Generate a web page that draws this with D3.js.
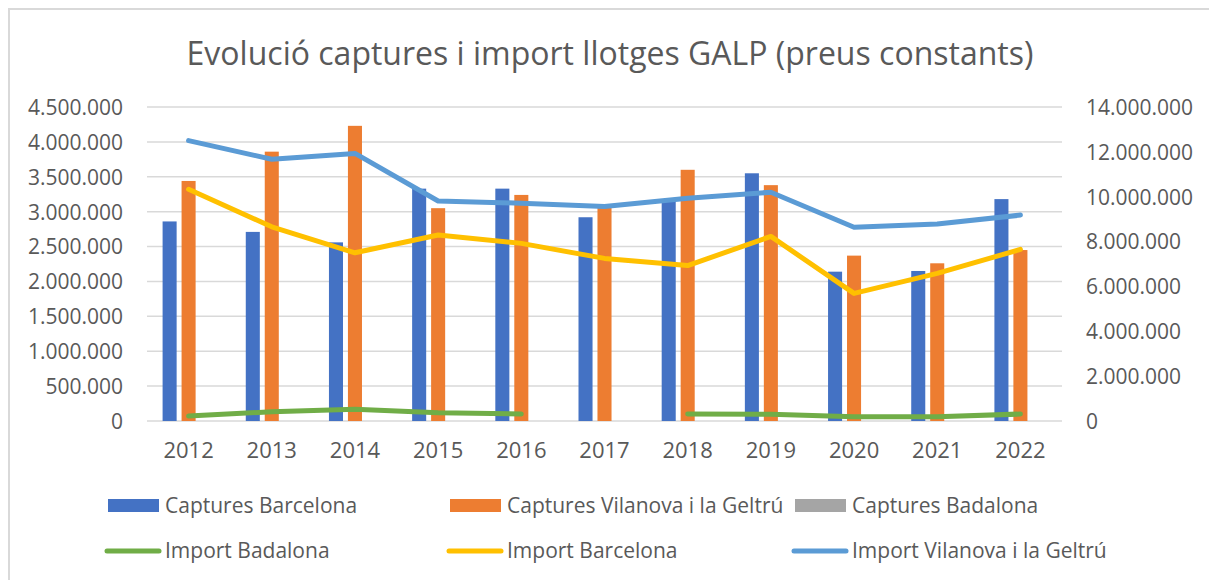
<!DOCTYPE html>
<html>
<head>
<meta charset="utf-8">
<script src="https://cdn.jsdelivr.net/npm/d3@7"></script>
<style>
  body { margin: 0; background: #fff; }
  text { font-family: "Open Sans", "Noto Sans", sans-serif; fill: #595959; }
</style>
</head>
<body>
<svg id="chart" width="1209" height="580"></svg>
<script>
// data
var years = ['2012','2013','2014','2015','2016','2017','2018','2019','2020','2021','2022'];
var capturesBarcelona = [2860000, 2710000, 2560000, 3330000, 3330000, 2920000, 3160000, 3550000, 2140000, 2150000, 3180000];
var capturesVilanova  = [3440000, 3860000, 4230000, 3050000, 3240000, 3070000, 3600000, 3380000, 2370000, 2260000, 2450000];
var capturesBadalona  = [null, null, null, null, null, null, null, null, null, null, null];
var importBadalona  = [220000, 410000, 520000, 370000, 310000, null, 310000, 300000, 190000, 190000, 310000];
var importBarcelona = [10330000, 8660000, 7500000, 8290000, 7920000, 7250000, 6930000, 8230000, 5690000, 6580000, 7650000];
var importVilanova  = [12500000, 11670000, 11930000, 9810000, 9710000, 9560000, 9930000, 10200000, 8640000, 8780000, 9180000];
var leftTicks = [0, 500000, 1000000, 1500000, 2000000, 2500000, 3000000, 3500000, 4000000, 4500000];
var rightTicks = [0, 2000000, 4000000, 6000000, 8000000, 10000000, 12000000, 14000000];

var barSeries = [
  { name: 'Captures Barcelona', values: capturesBarcelona, color: '#4472C4' },
  { name: 'Captures Vilanova i la Geltrú', values: capturesVilanova, color: '#ED7D31' },
  { name: 'Captures Badalona', values: capturesBadalona, color: '#A5A5A5' }
];
var lineSeries = [
  { name: 'Import Badalona', values: importBadalona, color: '#70AD47' },
  { name: 'Import Barcelona', values: importBarcelona, color: '#FFC000' },
  { name: 'Import Vilanova i la Geltrú', values: importVilanova, color: '#5B9BD5' }
];

/***********************************************************************************/
// Setup

var svg = d3.select('#chart');
var plotLeft = 147, plotRight = 1062, plotTop = 107, plotBottom = 421;

// chart frame
svg.append('rect')
  .attr('x', 9).attr('y', 9).attr('width', 1220).attr('height', 600)
  .attr('fill', 'none').attr('stroke', '#d9d9d9').attr('stroke-width', 2);

svg.append('text')
  .attr('x', 610).attr('y', 65)
  .attr('text-anchor', 'middle')
  .style('font-size', '32px')
  .text('Evolució captures i import llotges GALP (preus constants)');

var x = d3.scaleBand().domain(years).range([plotLeft, plotRight]);
var xBar = d3.scaleBand().domain(d3.range(barSeries.length)).range([-26, 26]).paddingInner(0.26);
var yLeft = d3.scaleLinear().domain([0, 4500000]).range([plotBottom, plotTop]);
var yRight = d3.scaleLinear().domain([0, 14000000]).range([plotBottom, plotTop]);

var fmt = function(v){ return d3.format(',')(v).replace(/,/g, '.'); };

/***********************************************************************************/
// Grid and axes

svg.append('g').selectAll('line').data(leftTicks).join('line')
  .attr('x1', plotLeft).attr('x2', plotRight)
  .attr('y1', function(d){ return yLeft(d); }).attr('y2', function(d){ return yLeft(d); })
  .attr('stroke', '#d9d9d9').attr('stroke-width', 1.5);

var axL = svg.append('g').attr('transform', 'translate(' + (plotLeft - 24) + ',0)')
  .call(d3.axisLeft(yLeft).tickValues(leftTicks).tickFormat(fmt).tickSize(0).tickPadding(0));
axL.select('.domain').remove();
axL.selectAll('text').style('font-size', '21px').attr('dy', '0.35em');

var axR = svg.append('g').attr('transform', 'translate(1086,0)')
  .call(d3.axisRight(yRight).tickValues(rightTicks).tickFormat(fmt).tickSize(0).tickPadding(0));
axR.select('.domain').remove();
axR.selectAll('text').style('font-size', '21px').attr('dy', '0.35em');

var axB = svg.append('g').attr('transform', 'translate(0,' + (plotBottom + 21) + ')')
  .call(d3.axisBottom(x).tickSize(0).tickPadding(0));
axB.select('.domain').remove();
axB.selectAll('text').style('font-size', '22px').attr('dy', '0.71em');

/***********************************************************************************/
// Bars

barSeries.forEach(function(s, i){
  svg.append('g').selectAll('rect')
    .data(years.map(function(yr, j){ return { year: yr, v: s.values[j] }; }).filter(function(d){ return d.v != null; }))
    .join('rect')
    .attr('x', function(d){ return x(d.year) + x.bandwidth() / 2 + xBar(i); })
    .attr('width', xBar.bandwidth())
    .attr('y', function(d){ return yLeft(d.v); })
    .attr('height', function(d){ return plotBottom - yLeft(d.v); })
    .attr('fill', s.color);
});

/***********************************************************************************/
// Lines

var line = d3.line()
  .defined(function(d){ return d.v != null; })
  .x(function(d){ return x(d.year) + x.bandwidth() / 2; })
  .y(function(d){ return yRight(d.v); });

lineSeries.forEach(function(s){
  svg.append('path')
    .datum(years.map(function(yr, j){ return { year: yr, v: s.values[j] }; }))
    .attr('d', line)
    .attr('fill', 'none').attr('stroke', s.color)
    .attr('stroke-width', 5).attr('stroke-linejoin', 'round').attr('stroke-linecap', 'round');
});

/***********************************************************************************/
// Legend

var legendX = [108, 450, 795];
var leg = svg.append('g');
barSeries.forEach(function(s, i){
  leg.append('rect').attr('x', legendX[i]).attr('y', 499).attr('width', 51).attr('height', 13).attr('fill', s.color);
  leg.append('text').attr('x', legendX[i] + 57).attr('y', 506).attr('dy', '0.35em')
    .style('font-size', '21px').text(s.name);
});
lineSeries.forEach(function(s, i){
  leg.append('line').attr('x1', legendX[i] - 1).attr('x2', legendX[i] + 51).attr('y1', 551).attr('y2', 551)
    .attr('stroke', s.color).attr('stroke-width', 5).attr('stroke-linecap', 'round');
  leg.append('text').attr('x', legendX[i] + 57).attr('y', 551).attr('dy', '0.35em')
    .style('font-size', '21px').text(s.name);
});
</script>
</body>
</html>
